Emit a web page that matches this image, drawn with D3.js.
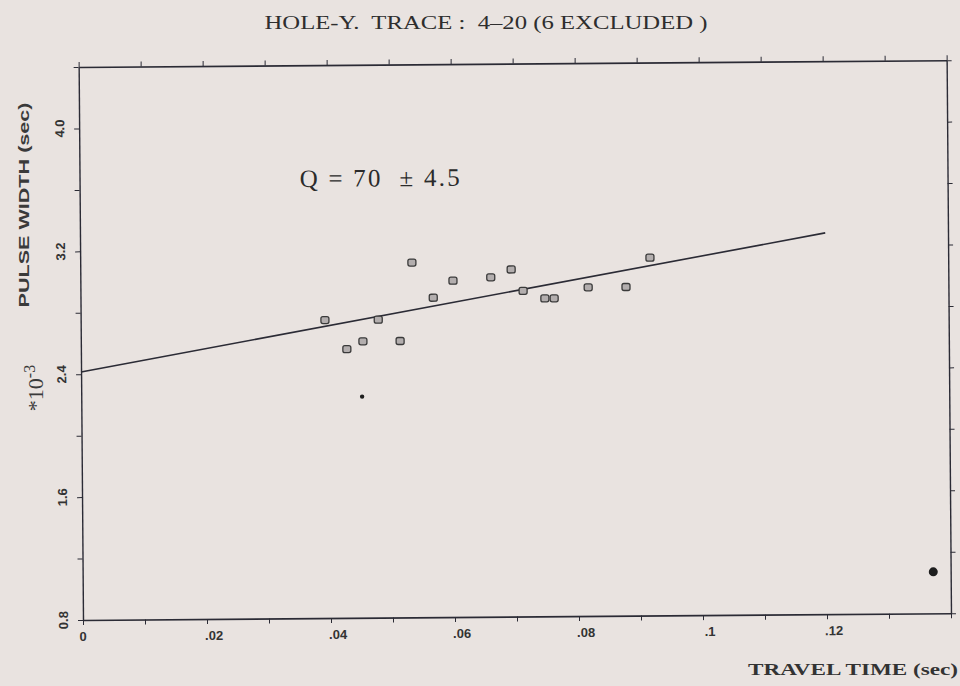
<!DOCTYPE html>
<html>
<head>
<meta charset="utf-8">
<script src="https://cdn.jsdelivr.net/npm/d3@7"></script>
<style>
  html, body { margin: 0; padding: 0; background: #e9e3e0; }
  svg { display: block; }
  .domain, .tick line { stroke: #2b2b35; }
</style>
</head>
<body>
<div id="chart"></div>
<script>
// Travel time (sec) of each kept trace.
var travelTime = [0.0394, 0.0429, 0.0455, 0.0480, 0.0515, 0.0535, 0.0569, 0.0601,
                  0.0662, 0.0695, 0.0714, 0.0749, 0.0764, 0.0819, 0.0880, 0.0919];
// Pulse width (*10^-3 sec) of each kept trace.
var pulseWidth = [2.74, 2.55, 2.60, 2.74, 2.60, 3.11, 2.88, 2.99,
                  3.01, 3.06, 2.92, 2.87, 2.87, 2.94, 2.94, 3.13];

// Excluded points (small dot and the big one at the right).
var exclTime = [0.0453, 0.1372];
var exclWidth = [2.24, 1.07];
var exclSize = [2.2, 4.5];

// Fitted line end points.
var fitTime = [0, 0.1202];
var fitWidth = [2.415, 3.282];

// Ticks.
var xTicks = [0, 0.01, 0.02, 0.03, 0.04, 0.05, 0.06, 0.07, 0.08, 0.09, 0.10, 0.11, 0.12, 0.13, 0.14];
var xLabelVals = [0, 0.02, 0.04, 0.06, 0.08, 0.10, 0.12];
var xLabels = ["0", ".02", ".04", ".06", ".08", ".1", ".12"];
var yTicks = [0.8, 1.2, 1.6, 2.0, 2.4, 2.8, 3.2, 3.6, 4.0, 4.4];
var yLabelVals = [0.8, 1.6, 2.4, 3.2, 4.0];
var yLabels = ["0.8", "1.6", "2.4", "3.2", "4.0"];

var width = 960;
var height = 686;
var originX = 83;   // where x=0, y=0.8 sits on the page
var originY = 620;
var plotW = 868;
var plotH = 553;
var tilt = -0.45;   // the scanned page is a bit crooked

var svg = d3.select("#chart")
    .append("svg")
    .attr("width", width)
    .attr("height", height);

// Title
svg.append("text")
    .attr("x", 486)
    .attr("y", 29)
    .attr("text-anchor", "middle")
    .attr("xml:space", "preserve")
    .attr("textLength", 443)
    .attr("lengthAdjust", "spacingAndGlyphs")
    .style("font-family", "Liberation Serif, serif")
    .style("font-size", "19px")
    .style("fill", "#2e2e2e")
    .text("HOLE-Y.  TRACE :  4\u201320 (6 EXCLUDED )");

var plot = svg.append("g")
    .attr("transform", "translate(" + originX + "," + originY + ") rotate(" + tilt + ")");

var xScale = d3.scaleLinear().domain([0, 0.14]).range([0, plotW]);
var yScale = d3.scaleLinear().domain([0.8, 4.4]).range([0, -plotH]);

// bottom axis, ticks down
plot.append("g")
    .call(d3.axisBottom(xScale).tickValues(xTicks).tickSize(5).tickSizeOuter(0).tickFormat(""))
    .call(g => g.select(".domain").attr("stroke-width", 1.6));
// top axis, ticks up
plot.append("g")
    .attr("transform", "translate(0," + (-plotH) + ")")
    .call(d3.axisTop(xScale).tickValues(xTicks).tickSize(5).tickSizeOuter(0).tickFormat(""))
    .call(g => g.select(".domain").attr("stroke-width", 1.6));
// left axis
plot.append("g")
    .call(d3.axisLeft(yScale).tickValues(yTicks).tickSize(5).tickSizeOuter(0).tickFormat(""))
    .call(g => g.select(".domain").attr("stroke-width", 1.4));
// right axis
plot.append("g")
    .attr("transform", "translate(" + plotW + ",0)")
    .call(d3.axisRight(yScale).tickValues(yTicks).tickSize(5).tickSizeOuter(0).tickFormat(""))
    .call(g => g.select(".domain").attr("stroke-width", 1.4));

// x tick labels
plot.selectAll(".xlab")
    .data(xLabelVals)
    .enter()
    .append("text")
    .attr("class", "xlab")
    .attr("x", (d, i) => xScale(d) + (i === 0 ? 0 : 7))
    .attr("y", 21)
    .attr("text-anchor", "middle")
    .style("font-family", "Liberation Sans, sans-serif")
    .style("font-weight", "bold")
    .style("font-size", "13px")
    .style("fill", "#333")
    .text((d, i) => xLabels[i]);

// y tick labels, rotated
plot.selectAll(".ylab")
    .data(yLabelVals)
    .enter()
    .append("text")
    .attr("class", "ylab")
    .attr("transform", d => "translate(-15," + yScale(d) + ") rotate(-90)")
    .attr("text-anchor", "middle")
    .style("font-family", "Liberation Sans, sans-serif")
    .style("font-weight", "bold")
    .style("font-size", "13px")
    .style("fill", "#333")
    .text((d, i) => yLabels[i]);

// fitted line
plot.append("path")
    .datum(fitTime.map((t, i) => [t, fitWidth[i]]))
    .attr("fill", "none")
    .attr("stroke", "#2b2b35")
    .attr("stroke-width", 1.6)
    .attr("d", d3.line().x(d => xScale(d[0])).y(d => yScale(d[1])));

// kept points, small rounded squares
plot.selectAll(".pt")
    .data(travelTime)
    .enter()
    .append("rect")
    .attr("class", "pt")
    .attr("x", d => xScale(d) - 4)
    .attr("y", (d, i) => yScale(pulseWidth[i]) - 3.5)
    .attr("width", 8)
    .attr("height", 7)
    .attr("rx", 2)
    .attr("fill", "#b3aeae")
    .attr("stroke", "#3a3a3a")
    .attr("stroke-width", 1.3);

// excluded points
plot.selectAll(".excl")
    .data(exclTime)
    .enter()
    .append("circle")
    .attr("class", "excl")
    .attr("cx", d => xScale(d))
    .attr("cy", (d, i) => yScale(exclWidth[i]))
    .attr("r", (d, i) => exclSize[i])
    .attr("fill", "#1e1e1e");

// Q annotation
plot.append("text")
    .attr("x", xScale(0.0355))
    .attr("y", yScale(3.608))
    .attr("xml:space", "preserve")
    .attr("textLength", 160)
    .attr("lengthAdjust", "spacing")
    .style("font-family", "Liberation Serif, serif")
    .style("font-size", "25px")
    .style("fill", "#2b2b2b")
    .text("Q = 70  \u00b1 4.5");

// y axis title
svg.append("text")
    .attr("transform", "translate(29,205) rotate(-90)")
    .attr("text-anchor", "middle")
    .attr("textLength", 205)
    .attr("lengthAdjust", "spacingAndGlyphs")
    .style("font-family", "Liberation Sans, sans-serif")
    .style("font-weight", "bold")
    .style("font-size", "15px")
    .style("fill", "#3a3a3a")
    .text("PULSE WIDTH  (sec)");

var mult = svg.append("text")
    .attr("transform", "translate(43,388) rotate(-90)")
    .attr("text-anchor", "middle")
    .style("font-family", "Liberation Serif, serif")
    .style("font-size", "22px")
    .style("fill", "#3a3a3a");
mult.append("tspan").text("*10");
mult.append("tspan").attr("dy", -8).style("font-size", "16px").text("-3");

// x axis title
svg.append("text")
    .attr("x", 958)
    .attr("y", 675)
    .attr("text-anchor", "end")
    .attr("textLength", 210)
    .attr("lengthAdjust", "spacingAndGlyphs")
    .style("font-family", "Liberation Serif, serif")
    .style("font-weight", "bold")
    .style("font-size", "17px")
    .style("fill", "#333")
    .text("TRAVEL TIME  (sec)");
</script>
</body>
</html>
